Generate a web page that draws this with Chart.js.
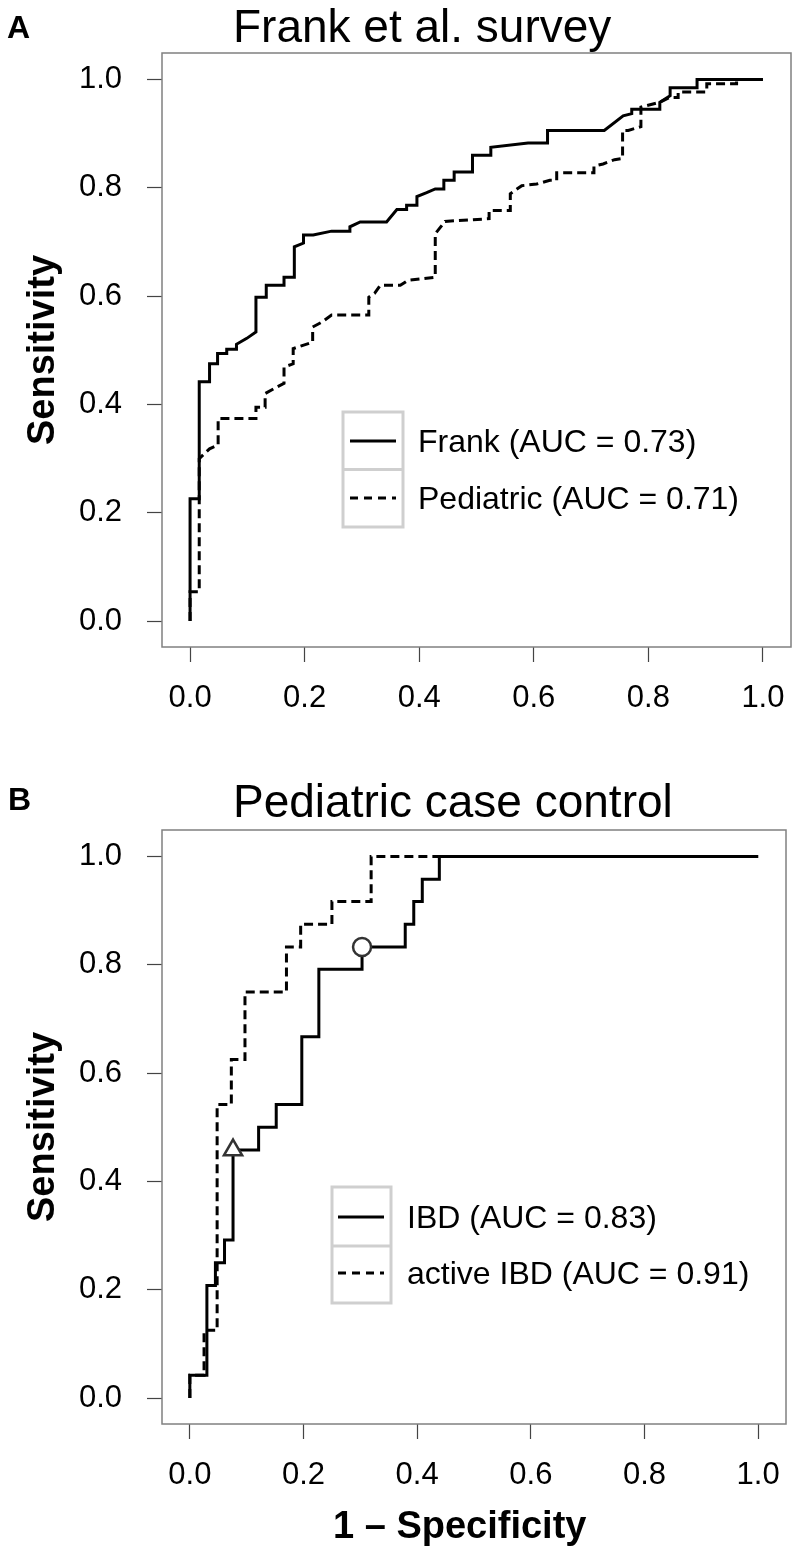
<!DOCTYPE html>
<html>
<head>
<meta charset="utf-8">
<script src="https://cdn.jsdelivr.net/npm/chart.js@4.4.1/dist/chart.umd.min.js"></script>
<style>
html,body{margin:0;padding:0;background:#fff;}
#wrap{position:relative;width:799px;height:1554px;overflow:hidden;}
.pane{position:absolute;left:0;width:799px;height:777px;}
</style>
</head>
<body>
<div id="wrap">
  <div class="pane" style="top:0"><canvas id="c1"></canvas></div>
  <div class="pane" style="top:777px"><canvas id="c2"></canvas></div>
</div>
<script>
// ---- tick values / labels ----
const tickValues = [0, 0.2, 0.4, 0.6, 0.8, 1.0];
const tickLabels = ['0.0', '0.2', '0.4', '0.6', '0.8', '1.0'];

// ---- Panel A: Frank et al. survey (ROC vertices: 1 - specificity, sensitivity) ----
const frankX = [0, 0, 0.016, 0.016, 0.034, 0.034, 0.048, 0.048, 0.064, 0.064,
  0.081, 0.081, 0.099, 0.115, 0.115, 0.133, 0.133, 0.164, 0.164, 0.182,
  0.182, 0.198, 0.198, 0.215, 0.247, 0.279, 0.279, 0.297, 0.343, 0.361,
  0.378, 0.378, 0.396, 0.396, 0.413, 0.428, 0.443, 0.443, 0.461, 0.461,
  0.493, 0.493, 0.525, 0.525, 0.590, 0.624, 0.624, 0.723, 0.756, 0.771,
  0.771, 0.820, 0.820, 0.829, 0.838, 0.838, 0.885, 0.885, 1.0];
const frankY = [0, 0.226, 0.226, 0.442, 0.442, 0.475, 0.475, 0.494, 0.494, 0.502,
  0.502, 0.511, 0.522, 0.534, 0.598, 0.598, 0.620, 0.620, 0.635, 0.635,
  0.691, 0.698, 0.713, 0.713, 0.720, 0.720, 0.728, 0.737, 0.737, 0.760,
  0.760, 0.768, 0.768, 0.784, 0.791, 0.798, 0.798, 0.814, 0.814, 0.829,
  0.829, 0.860, 0.860, 0.875, 0.883, 0.883, 0.906, 0.906, 0.933, 0.937,
  0.945, 0.945, 0.958, 0.964, 0.970, 0.985, 0.985, 1.0, 1.0];

const pedX = [0, 0, 0.016, 0.016, 0.034, 0.049, 0.049, 0.115, 0.115, 0.131,
  0.131, 0.148, 0.164, 0.164, 0.180, 0.180, 0.197, 0.214, 0.214, 0.230,
  0.247, 0.312, 0.312, 0.322, 0.332, 0.367, 0.380, 0.428, 0.428, 0.445,
  0.522, 0.522, 0.559, 0.559, 0.579, 0.605, 0.628, 0.640, 0.640, 0.705,
  0.705, 0.721, 0.741, 0.755, 0.755, 0.765, 0.787, 0.787, 0.820, 0.837,
  0.852, 0.852, 0.902, 0.902, 0.954, 0.954, 1.0];
const pedY = [0, 0.054, 0.054, 0.300, 0.318, 0.325, 0.374, 0.374, 0.395, 0.395,
  0.420, 0.430, 0.439, 0.469, 0.475, 0.503, 0.509, 0.515, 0.543, 0.552,
  0.565, 0.565, 0.598, 0.605, 0.620, 0.620, 0.629, 0.635, 0.715, 0.738,
  0.743, 0.758, 0.758, 0.789, 0.804, 0.807, 0.814, 0.814, 0.828, 0.828,
  0.840, 0.844, 0.852, 0.854, 0.906, 0.906, 0.913, 0.949, 0.958, 0.967,
  0.967, 0.977, 0.977, 0.992, 0.992, 1.0, 1.0];

// ---- Panel B: Pediatric case control ----
const ibdX = [0, 0, 0.030, 0.030, 0.045, 0.045, 0.061, 0.061, 0.076, 0.076,
  0.121, 0.121, 0.152, 0.152, 0.197, 0.197, 0.227, 0.227, 0.303, 0.303,
  0.379, 0.379, 0.394, 0.394, 0.409, 0.409, 0.439, 0.439, 1.0];
const ibdY = [0, 0.042, 0.042, 0.208, 0.208, 0.250, 0.250, 0.292, 0.292, 0.458,
  0.458, 0.500, 0.500, 0.542, 0.542, 0.667, 0.667, 0.792, 0.792, 0.833,
  0.833, 0.875, 0.875, 0.917, 0.917, 0.958, 0.958, 1.0, 1.0];

const activeX = [0, 0, 0.025, 0.025, 0.048, 0.048, 0.073, 0.073, 0.097, 0.097,
  0.170, 0.170, 0.195, 0.195, 0.250, 0.250, 0.319, 0.319, 1.0];
const activeY = [0, 0.042, 0.042, 0.125, 0.125, 0.542, 0.542, 0.625, 0.625, 0.750,
  0.750, 0.833, 0.833, 0.875, 0.875, 0.917, 0.917, 1.0, 1.0];

// highlighted cut-off points on the IBD curve
const triangleX = [0.076];
const triangleY = [0.458];
const circleX = [0.303];
const circleY = [0.833];

// ---- labels ----
const panelA = { letter: 'A', title: 'Frank et al. survey',
  series: ['Frank (AUC = 0.73)', 'Pediatric (AUC = 0.71)'] };
const panelB = { letter: 'B', title: 'Pediatric case control',
  series: ['IBD (AUC = 0.83)', 'active IBD (AUC = 0.91)'] };
const yTitle = 'Sensitivity';
const xTitle = '1 \u2013 Specificity';

// ---- helpers ----
const FONT = '"Liberation Sans", Arial, Helvetica, sans-serif';
Chart.defaults.font.family = FONT;
Chart.defaults.color = '#000';
const pts = (xs, ys) => xs.map((x, i) => ({ x: x, y: ys[i] }));
const DASH = [9, 5];

const decor = {
  id: 'decor',
  afterDraw(chart, args, o) {
    const ctx = chart.ctx, a = chart.chartArea;
    ctx.save();
    // plot frame
    ctx.strokeStyle = '#808080';
    ctx.lineWidth = 1.5;
    ctx.setLineDash([]);
    ctx.strokeRect(a.left, a.top, a.right - a.left, a.bottom - a.top);
    // panel letter + title
    ctx.fillStyle = '#000';
    ctx.textAlign = 'left';
    ctx.textBaseline = 'alphabetic';
    ctx.font = 'bold 32px ' + FONT;
    ctx.fillText(o.letter, o.letterX, o.letterY);
    ctx.font = '46px ' + FONT;
    ctx.fillText(o.title, o.titleX, o.titleY);
    // y axis title
    ctx.save();
    ctx.translate(o.yTitleX, (a.top + a.bottom) / 2);
    ctx.rotate(-Math.PI / 2);
    ctx.textAlign = 'center';
    ctx.textBaseline = 'middle';
    ctx.font = 'bold 38px ' + FONT;
    ctx.fillText(yTitle, 0, 0);
    ctx.restore();
    // x axis title
    if (o.showXTitle) {
      ctx.font = 'bold 38px ' + FONT;
      ctx.textAlign = 'left';
      ctx.textBaseline = 'alphabetic';
      ctx.fillText(xTitle, o.xTitleX, o.xTitleY);
    }
    // legend
    const L = o.legend;
    ctx.fillStyle = '#fff';
    ctx.fillRect(L.x, L.y, L.w, L.h);
    ctx.strokeStyle = '#cfcfcf';
    ctx.lineWidth = 3;
    ctx.strokeRect(L.x, L.y, L.w, L.h);
    ctx.beginPath();
    ctx.moveTo(L.x, L.div);
    ctx.lineTo(L.x + L.w, L.div);
    ctx.stroke();
    L.rows.forEach((r, i) => {
      ctx.strokeStyle = '#000';
      ctx.lineWidth = 3;
      ctx.lineCap = 'butt';
      ctx.setLineDash(r.dash);
      ctx.beginPath();
      ctx.moveTo(L.lx1, r.y);
      ctx.lineTo(L.lx2, r.y);
      ctx.stroke();
      ctx.setLineDash([]);
      ctx.fillStyle = '#000';
      ctx.font = '32px ' + FONT;
      ctx.textAlign = 'left';
      ctx.textBaseline = 'middle';
      ctx.fillText(o.series[i], L.tx, r.y + 2);
    });
    ctx.restore();
  }
};

function axisCfg(isX) {
  return {
    type: 'linear',
    min: isX ? -0.049 : -0.048,
    max: isX ? 1.049 : 1.049,
    afterBuildTicks: s => { s.ticks = tickValues.map(v => ({ value: v })); },
    ticks: {
      callback: v => tickLabels[tickValues.indexOf(v)],
      font: { size: 31 },
      color: '#000',
      padding: isX ? 18 : 25,
      maxRotation: 0,
      autoSkip: false
    },
    grid: { display: true, drawOnChartArea: false, drawTicks: true, tickLength: 15, tickColor: '#444', tickWidth: 1.2 },
    border: { display: false },
    afterFit: s => {
      if (isX) { s.height = 130; s.paddingLeft = 0; s.paddingRight = 0; }
      else { s.width = 162; s.paddingTop = 0; s.paddingBottom = 0; }
    }
  };
}

function makeChart(id, datasets, decorOpts) {
  return new Chart(document.getElementById(id), {
    type: 'line',
    data: { datasets: datasets },
    options: {
      responsive: true,
      maintainAspectRatio: false,
      devicePixelRatio: 1,
      animation: false,
      events: [],
      layout: { padding: { top: 53, right: 8, left: 0, bottom: 0 } },
      scales: { x: axisCfg(true), y: axisCfg(false) },
      elements: { line: { tension: 0 } },
      plugins: { legend: { display: false }, tooltip: { enabled: false }, decor: decorOpts }
    },
    plugins: [decor]
  });
}

const lineDs = (label, data, dashed, order) => ({
  type: 'line', label: label, data: data,
  borderColor: '#000', borderWidth: 3, borderDash: dashed ? DASH : [],
  borderCapStyle: 'butt', borderJoinStyle: 'miter',
  pointRadius: 0, fill: false, order: order
});

makeChart('c1', [
  lineDs(panelA.series[0], pts(frankX, frankY), false, 1),
  lineDs(panelA.series[1], pts(pedX, pedY), true, 2)
], {
  letter: panelA.letter, letterX: 7, letterY: 38,
  title: panelA.title, titleX: 233, titleY: 42,
  yTitleX: 44, showXTitle: false,
  series: panelA.series,
  legend: { x: 343, y: 412, w: 60, h: 115, div: 469.5,
    lx1: 350, lx2: 396, tx: 418,
    rows: [{ y: 441, dash: [] }, { y: 498, dash: [8, 6] }] }
});

makeChart('c2', [
  { type: 'scatter', label: 'cut-off (triangle)', data: pts(triangleX, triangleY),
    pointStyle: 'triangle', pointRadius: 10.5, pointBackgroundColor: '#fff',
    pointBorderColor: '#333', pointBorderWidth: 2.5, showLine: false, order: 0 },
  { type: 'scatter', label: 'cut-off (circle)', data: pts(circleX, circleY),
    pointStyle: 'circle', pointRadius: 9, pointBackgroundColor: '#fff',
    pointBorderColor: '#333', pointBorderWidth: 2.5, showLine: false, order: 0 },
  lineDs(panelB.series[0], pts(ibdX, ibdY), false, 1),
  lineDs(panelB.series[1], pts(activeX, activeY), true, 2)
], {
  letter: panelB.letter, letterX: 8, letterY: 33,
  title: panelB.title, titleX: 233, titleY: 40,
  yTitleX: 44, showXTitle: true, xTitleX: 333, xTitleY: 761,
  series: panelB.series,
  legend: { x: 332, y: 410, w: 59, h: 116, div: 469,
    lx1: 338, lx2: 384, tx: 407,
    rows: [{ y: 440, dash: [] }, { y: 496, dash: [8, 6] }] }
});
</script>
</body>
</html>
